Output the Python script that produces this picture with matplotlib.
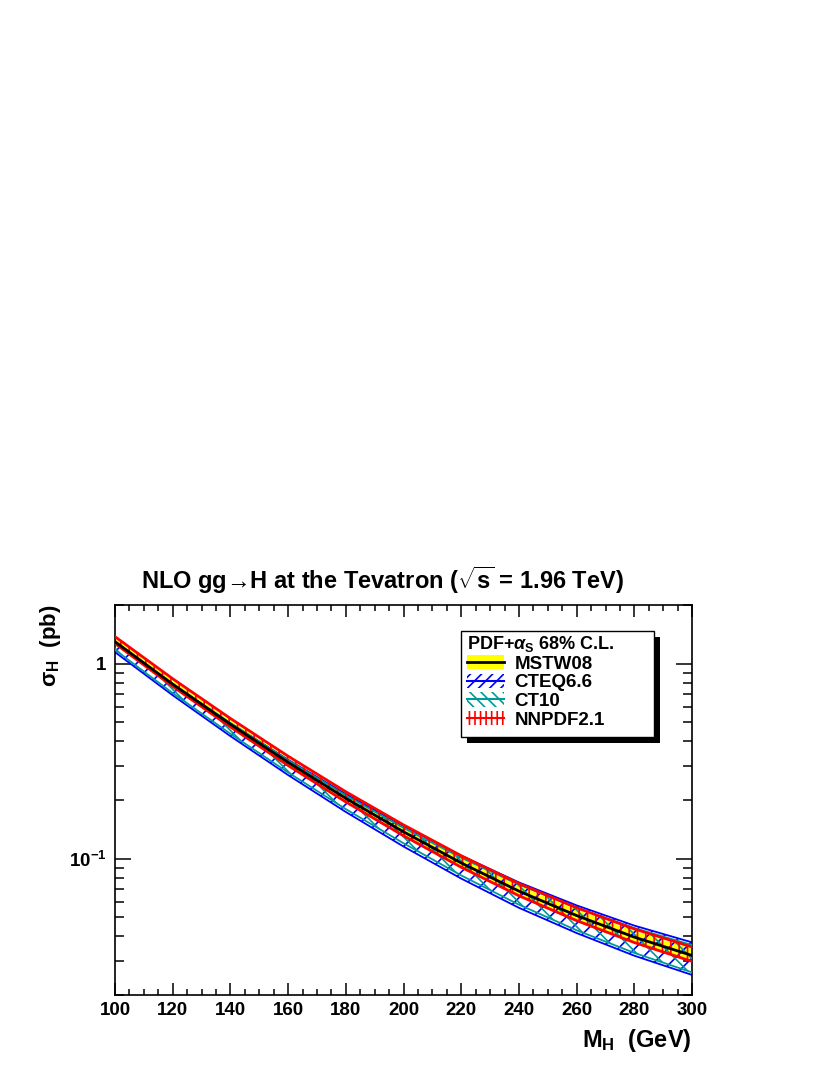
import matplotlib
matplotlib.use("Agg")
import matplotlib.pyplot as plt
from matplotlib.ticker import MultipleLocator, LogLocator, NullFormatter
from matplotlib.patches import Patch, Rectangle
from matplotlib.lines import Line2D

# Higgs mass points (GeV)
mass = [100, 120, 140, 160, 180, 200, 220, 240, 260, 280, 300]

# central cross sections (pb) and relative 68% C.L. PDF+alpha_S uncertainties
mstw = [1.297, 0.785, 0.489, 0.312, 0.204, 0.1374, 0.0951, 0.0682, 0.0511, 0.0396, 0.0319]
mstw_err = [0.040, 0.044, 0.048, 0.052, 0.056, 0.060, 0.064, 0.068, 0.072, 0.076, 0.080]

cteq = [1.206, 0.734, 0.460, 0.295, 0.194, 0.1312, 0.0913, 0.0658, 0.0496, 0.0386, 0.0313]
cteq_err = [0.050, 0.062, 0.076, 0.090, 0.105, 0.120, 0.134, 0.149, 0.162, 0.176, 0.190]

ct10 = [1.232, 0.747, 0.4665, 0.2983, 0.1954, 0.1319, 0.0916, 0.0659, 0.0495, 0.0385, 0.0311]
ct10_err = [0.045, 0.054, 0.063, 0.072, 0.081, 0.090, 0.104, 0.118, 0.132, 0.146, 0.160]

nnpdf = [1.323, 0.801, 0.499, 0.318, 0.208, 0.1401, 0.0970, 0.0696, 0.0521, 0.0404, 0.0325]
nnpdf_err = [0.040, 0.045, 0.050, 0.055, 0.060, 0.064, 0.068, 0.072, 0.076, 0.080, 0.085]

labels = ["MSTW08", "CTEQ6.6", "CT10", "NNPDF2.1"]

plt.rcParams["font.family"] = ["Liberation Sans", "DejaVu Sans"]
plt.rcParams["font.weight"] = "bold"
plt.rcParams["mathtext.fontset"] = "custom"
plt.rcParams["mathtext.rm"] = "Liberation Sans:bold"
plt.rcParams["mathtext.bf"] = "Liberation Sans:bold"
plt.rcParams["mathtext.it"] = "Liberation Sans:bold:italic"
plt.rcParams["hatch.linewidth"] = 1.2

BLUE = "#0000ff"
TEAL = "#009a9a"
RED = "#ff0000"


def band(c, e):
    lo = [v * (1 - r) for v, r in zip(c, e)]
    hi = [v * (1 + r) for v, r in zip(c, e)]
    return lo, hi


fig = plt.figure(figsize=(8.3, 10.75), dpi=100)
ax = fig.add_axes([0.1386, 0.0744, 0.6952, 0.3628])

# MSTW08 yellow band
lo, hi = band(mstw, mstw_err)
ax.fill_between(mass, lo, hi, facecolor="yellow", lw=0, zorder=1)

# CTEQ6.6 blue hatched band
lo, hi = band(cteq, cteq_err)
ax.fill_between(mass, lo, hi, facecolor="none", edgecolor=BLUE, hatch="//", lw=0, zorder=2)
ax.plot(mass, lo, color=BLUE, lw=1.3, zorder=2)
ax.plot(mass, hi, color=BLUE, lw=1.3, zorder=2)

# CT10 teal hatched band
lo, hi = band(ct10, ct10_err)
ax.fill_between(mass, lo, hi, facecolor="none", edgecolor=TEAL, hatch="\\\\", lw=0, zorder=3)
ax.plot(mass, lo, color=TEAL, lw=1.3, zorder=3)
ax.plot(mass, hi, color=TEAL, lw=1.3, zorder=3)

# NNPDF2.1 red vertical hatch
lo, hi = band(nnpdf, nnpdf_err)
ax.fill_between(mass, lo, hi, facecolor="none", edgecolor=RED, hatch="||", lw=0, zorder=4)
ax.plot(mass, lo, color=RED, lw=2, zorder=4)
ax.plot(mass, hi, color=RED, lw=2, zorder=4)

# MSTW08 central line
ax.plot(mass, mstw, color="black", lw=2, zorder=4.5)

ax.set_yscale("log")
ax.set_xlim(100, 300)
ax.set_ylim(0.02, 2)

ax.xaxis.set_major_locator(MultipleLocator(20))
ax.xaxis.set_minor_locator(MultipleLocator(5))
ax.set_yticks([0.1, 1])
ax.set_yticklabels([r"$\mathbf{10^{-1}}$", "1"])
ax.yaxis.set_minor_locator(LogLocator(base=10, subs=range(2, 10)))
ax.yaxis.set_minor_formatter(NullFormatter())

ax.tick_params(which="both", direction="in", top=True, right=True, width=1.1, labelsize=13.5)
ax.tick_params(axis="x", which="major", length=8.6, pad=5)
ax.tick_params(axis="x", which="minor", length=4.3)
ax.tick_params(axis="y", which="major", length=11.5, pad=6)
ax.tick_params(axis="y", which="minor", length=6.5)
for s in ax.spines.values():
    s.set_linewidth(1.2)

fig.text(382 / 830, 1 - 580 / 1075, r"NLO gg→H at the Tevatron ($\sqrt{\mathrm{s}}$ = 1.96 TeV)",
         ha="center", va="center", fontsize=17, fontweight="bold")
fig.text(50 / 830, 1 - 605 / 1075, r"σ$_\mathrm{H}$  (pb)", rotation=90,
         ha="center", va="top", fontsize=16, fontweight="bold")
fig.text(692 / 830, 1 - 1040 / 1075, r"M$_\mathrm{H}$  (GeV)",
         ha="right", va="center", fontsize=17, fontweight="bold")

# legend box with black ROOT-style shadow
bx0, bx1 = 0.5997, 0.9341
by0, by1 = 0.6615, 0.9333
ax.add_patch(Rectangle((bx0 + 6 / 577, by0 - 6 / 390), bx1 - bx0, by1 - by0,
                       transform=ax.transAxes, facecolor="black", edgecolor="none",
                       zorder=5.8, clip_on=False))
ax.add_patch(Rectangle((bx0, by0), bx1 - bx0, by1 - by0,
                       transform=ax.transAxes, facecolor="white", edgecolor="black",
                       lw=1, zorder=5.9, clip_on=False))

handles = [
    (Patch(facecolor="yellow", edgecolor="none"), Line2D([], [], color="black", lw=2)),
    (Patch(facecolor="none", edgecolor=BLUE, hatch="///", lw=0), Line2D([], [], color=BLUE, lw=1.5)),
    (Patch(facecolor="none", edgecolor=TEAL, hatch="\\\\\\", lw=0), Line2D([], [], color=TEAL, lw=1.5)),
    (Patch(facecolor="none", edgecolor=RED, hatch="|||", lw=0), Line2D([], [], color=RED, lw=1.5)),
]
leg = ax.legend(handles, labels, loc="upper left", bbox_to_anchor=(bx0 + 0.002, by1 + 0.004),
                title=r"PDF+$\alpha_\mathrm{S}$ 68% C.L.", alignment="left",
                frameon=False, borderaxespad=0, prop=dict(size=13.5, weight="bold"),
                title_fontproperties=dict(size=13, weight="bold"),
                handlelength=2.0, handleheight=0.8, labelspacing=0.05,
                handletextpad=0.55, borderpad=0.25)
leg.set_zorder(6)

fig.savefig("out.png", dpi=100, facecolor="white")
